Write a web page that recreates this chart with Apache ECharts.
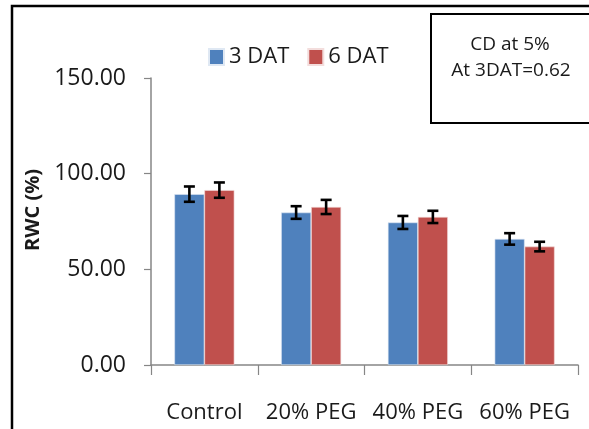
<!DOCTYPE html>
<html>
<head>
<meta charset="utf-8">
<script src="https://cdn.jsdelivr.net/npm/echarts@6/dist/echarts.min.js"></script>
<style>
html,body{margin:0;padding:0;background:#fff;}
#chart{width:589px;height:429px;}
</style>
</head>
<body>
<div id="chart"></div>
<script>
const categories = ['Control', '20% PEG', '40% PEG', '60% PEG'];
const seriesNames = ['3 DAT', '6 DAT'];
const dat3 = [89.3, 79.7, 74.5, 65.9];
const dat6 = [91.4, 82.6, 77.4, 61.9];
const err3 = [4.0, 3.3, 3.4, 3.0];
const err6 = [4.0, 3.7, 3.2, 2.5];
const yTicks = [0, 50, 100, 150];
const axisTitle = 'RWC (%)';
const noteLines = ['CD at 5%', 'At 3DAT=0.62'];

const FONT = '"Open Sans", sans-serif';
const BAR_W = 30;

function errData(vals, errs) {
  return vals.map((v, i) => [i, v, errs[i]]);
}
function errSeries(vals, errs, offset) {
  return {
    type: 'custom',
    data: errData(vals, errs),
    encode: { x: 0, y: 1 },
    z: 10,
    silent: true,
    renderItem: function (params, api) {
      const idx = api.value(0);
      const v = api.value(1);
      const e = api.value(2);
      const top = api.coord([idx, v + e]);
      const bot = api.coord([idx, v - e]);
      const x = top[0] + offset;
      const cap = 5.5;
      const st = { stroke: '#000', lineWidth: 2.6 };
      return {
        type: 'group',
        children: [
          { type: 'line', shape: { x1: x, y1: top[1], x2: x, y2: bot[1] }, style: st },
          { type: 'line', shape: { x1: x - cap, y1: top[1], x2: x + cap, y2: top[1] }, style: st },
          { type: 'line', shape: { x1: x - cap, y1: bot[1], x2: x + cap, y2: bot[1] }, style: st }
        ]
      };
    }
  };
}

const chart = echarts.init(document.getElementById('chart'));
chart.setOption({
  animation: false,
  backgroundColor: '#fff',
  grid: { left: 151, right: 11, top: 78, bottom: 64, containLabel: false },
  legend: {
    data: seriesNames,
    left: 203,
    top: 41,
    itemWidth: 15,
    itemHeight: 16,
    itemGap: 18,
    icon: 'rect',
    textStyle: { fontFamily: FONT, fontSize: 22, color: '#1a1a1a', padding: [0, 0, 0, 0] }
  },
  xAxis: {
    type: 'category',
    data: categories,
    boundaryGap: true,
    axisLine: { lineStyle: { color: '#868686', width: 1.5 } },
    axisTick: { show: true, length: 10, interval: 0, alignWithLabel: false, lineStyle: { color: '#868686', width: 1.2 } },
    axisLabel: { fontFamily: FONT, fontSize: 22, color: '#1a1a1a', margin: 37, interval: 0 }
  },
  yAxis: {
    type: 'value',
    min: yTicks[0],
    max: yTicks[yTicks.length - 1],
    interval: yTicks[1] - yTicks[0],
    splitLine: { show: false },
    axisLine: { show: true, lineStyle: { color: '#868686', width: 1.5 } },
    axisTick: { show: true, length: 7, lineStyle: { color: '#868686', width: 1.2 } },
    axisLabel: { fontFamily: FONT, fontSize: 23, color: '#1a1a1a', margin: 25, formatter: v => v.toFixed(2) }
  },
  series: [
    {
      name: seriesNames[0], type: 'bar', data: dat3, barWidth: BAR_W, barGap: '0%',
      itemStyle: { color: '#4F81BD', borderColor: '#dfe8f3', borderWidth: 0.6 }
    },
    {
      name: seriesNames[1], type: 'bar', data: dat6, barWidth: BAR_W, barGap: '0%',
      itemStyle: { color: '#C0504D', borderColor: '#f3dddc', borderWidth: 0.6 }
    },
    errSeries(dat3, err3, -BAR_W / 2),
    errSeries(dat6, err6, BAR_W / 2)
  ],
  graphic: [
    { type: 'rect', shape: { x: 12, y: 6, width: 700, height: 600 }, style: { fill: 'none', stroke: '#000', lineWidth: 2.5 }, z: 100 },
    { type: 'rect', shape: { x: 431, y: 14, width: 300, height: 109 }, style: { fill: 'none', stroke: '#000', lineWidth: 2 }, z: 100 },
    { type: 'text', x: 510, y: 45, style: { text: noteLines[0], font: '19px ' + FONT, fill: '#1a1a1a', textAlign: 'center', textVerticalAlign: 'middle' }, z: 100 },
    { type: 'text', x: 511, y: 71, style: { text: noteLines[1], font: '19px ' + FONT, fill: '#1a1a1a', textAlign: 'center', textVerticalAlign: 'middle' }, z: 100 },
    { type: 'text', x: 33, y: 210, rotation: Math.PI / 2, style: { text: axisTitle, font: 'bold 20px ' + FONT, fill: '#1a1a1a', textAlign: 'center', textVerticalAlign: 'middle' }, z: 100 }
  ]
});
</script>
</body>
</html>
